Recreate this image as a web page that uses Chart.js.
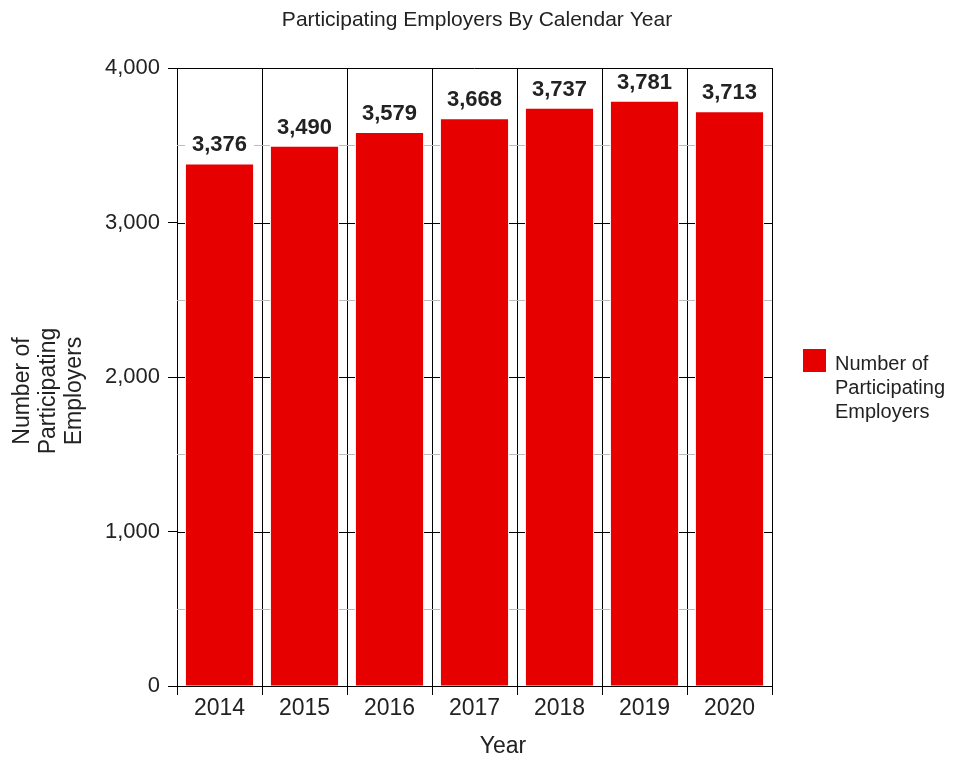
<!DOCTYPE html>
<html>
<head>
<meta charset="utf-8">
<title>Participating Employers By Calendar Year</title>
<script src="https://cdn.jsdelivr.net/npm/chart.js@4.4.1/dist/chart.umd.min.js"></script>
<style>
    html, body { margin: 0; padding: 0; background: #fff; }
    #wrap { width: 958px; height: 760px; }
</style>
</head>
<body>
<div id="wrap"><canvas id="chart1" width="958" height="760"></canvas></div>
<script>
const years = ['2014', '2015', '2016', '2017', '2018', '2019', '2020'];
const employers = [3376, 3490, 3579, 3668, 3737, 3781, 3713];
const seriesLabel = ['Number of', 'Participating', 'Employers'];
const yTitle = ['Number of', 'Participating', 'Employers'];
const chartTitle = 'Participating Employers By Calendar Year';
const xTitle = 'Year';

const FONT = 'Arial, "Liberation Sans", Helvetica, sans-serif';
const TEXT = '#222222';
const BAR = '#e60000';

// short crosses on the category dividers, value labels, borders, legend and titles
const extras = {
    id: 'extras',
    beforeDatasetsDraw(chart) {
        const { ctx, chartArea, scales } = chart;
        const xs = scales.x, ys = scales.y;
        const dividers = [chartArea.left];
        for (let i = 1; i < years.length; i++) {
            dividers.push((xs.getPixelForValue(i - 1) + xs.getPixelForValue(i)) / 2);
        }
        dividers.push(chartArea.right);

        ctx.save();
        ctx.lineWidth = 1;
        for (let v = 500; v < 4000; v += 500) {
            const y = Math.round(ys.getPixelForValue(v)) + 0.5;
            ctx.strokeStyle = v % 1000 === 0 ? '#000000' : '#bdbdbd';
            dividers.forEach((x, i) => {
                const x0 = i === 0 ? x : x - 8;
                const x1 = i === dividers.length - 1 ? x : x + 8;
                ctx.beginPath();
                ctx.moveTo(x0, y);
                ctx.lineTo(x1, y);
                ctx.stroke();
            });
        }
        // top border
        ctx.strokeStyle = '#000000';
        ctx.beginPath();
        ctx.moveTo(chartArea.left, Math.round(chartArea.top) + 0.5);
        ctx.lineTo(chartArea.right, Math.round(chartArea.top) + 0.5);
        ctx.stroke();
        ctx.restore();
    },
    afterDatasetsDraw(chart) {
        const { ctx, chartArea } = chart;
        const meta = chart.getDatasetMeta(0);
        ctx.save();
        ctx.fillStyle = TEXT;
        ctx.textAlign = 'center';
        ctx.textBaseline = 'alphabetic';
        ctx.font = 'bold 22px ' + FONT;
        meta.data.forEach((bar, i) => {
            ctx.fillText(employers[i].toLocaleString('en-US'), bar.x, bar.y - 13);
        });

        // legend
        const lx = chartArea.right + 31;
        const ly = 349;
        ctx.fillStyle = BAR;
        ctx.fillRect(lx, ly, 23, 23);
        ctx.fillStyle = TEXT;
        ctx.textAlign = 'left';
        ctx.font = '20px ' + FONT;
        seriesLabel.forEach((line, i) => {
            ctx.fillText(line, lx + 32, ly + 21 + i * 24);
        });

        // chart title
        ctx.textAlign = 'center';
        ctx.font = '21px ' + FONT;
        ctx.fillText(chartTitle, 477, 26);

        // x axis title
        ctx.font = '23px ' + FONT;
        ctx.fillText(xTitle, 503, 753);

        // y axis title, rotated
        ctx.save();
        ctx.translate(0, 391);
        ctx.rotate(-Math.PI / 2);
        yTitle.forEach((line, i) => {
            ctx.fillText(line, 0, 29 + i * 26);
        });
        ctx.restore();
        ctx.restore();
    }
};

const ctx1 = document.getElementById('chart1').getContext('2d');

const chart = new Chart(ctx1, {
    type: 'bar',
    data: {
        labels: years,
        datasets: [{
            label: seriesLabel.join(' '),
            data: employers,
            backgroundColor: BAR,
            borderWidth: 0,
            barPercentage: 0.79,
            categoryPercentage: 1
        }]
    },
    options: {
        responsive: false,
        animation: false,
        layout: { padding: { left: 0, right: 186, top: 68, bottom: 0 } },
        plugins: {
            legend: { display: false },
            tooltip: { enabled: false },
            title: { display: false }
        },
        scales: {
            x: {
                offset: true,
                grid: {
                    offset: true,
                    color: '#000000',
                    lineWidth: 1,
                    tickLength: 9,
                    drawOnChartArea: true
                },
                border: { color: '#000000', width: 1 },
                ticks: {
                    color: TEXT,
                    padding: 0,
                    font: { family: FONT, size: 23 }
                },
                afterFit(scale) {
                    scale.height = 74;
                }
            },
            y: {
                min: 0,
                max: 4000,
                grid: {
                    drawOnChartArea: false,
                    color: '#000000',
                    tickLength: 9
                },
                border: { color: '#000000', width: 1 },
                ticks: {
                    stepSize: 1000,
                    color: TEXT,
                    padding: 8,
                    font: { family: FONT, size: 22 },
                    callback: function (value) {
                        return value.toLocaleString('en-US');
                    }
                },
                afterFit(scale) {
                    scale.width = 177;
                }
            }
        }
    },
    plugins: [extras]
});
</script>
</body>
</html>
